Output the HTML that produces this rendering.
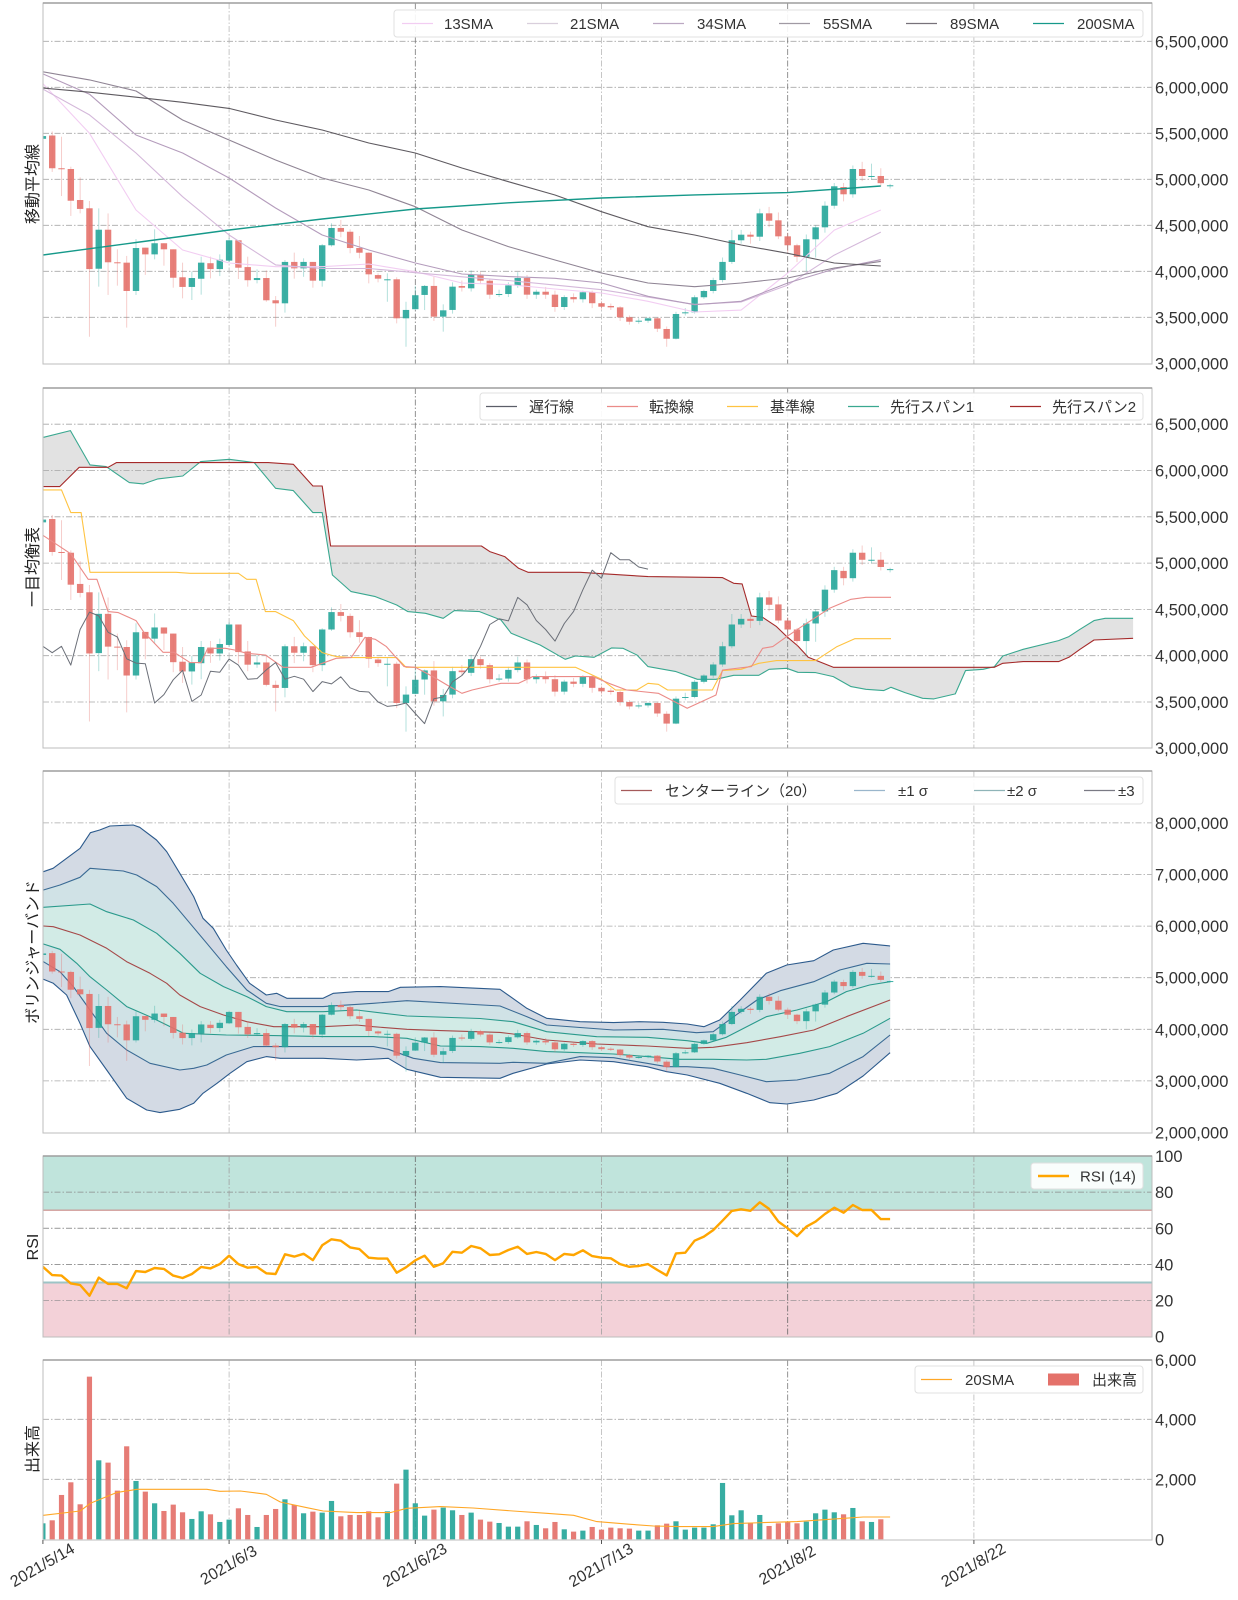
<!DOCTYPE html>
<html lang="ja">
<head>
<meta charset="utf-8">
<title>BTC/JPY chart</title>
<style>
  html,body{margin:0;padding:0;background:#fff;}
  svg{display:block;font-family:"Liberation Sans","Noto Sans CJK JP",sans-serif;}
</style>
</head>
<body>
<svg id="chart" xmlns="http://www.w3.org/2000/svg" width="1238" height="1600" viewBox="0 0 1238 1600"></svg>
<script>
// ===== data (prices in thousands of JPY) =====
const opens = [5440,5476,5120,5112,4775,4685,4028,4452,4098,4094,3786,4257,4184,4305,4239,3935,3830,3919,4088,4024,4116,4337,4046,3905,3927,3685,3652,4102,4032,4102,3898,4283,4471,4430,4253,4202,3959,3913,3913,3489,3588,3743,3841,3507,3580,3840,3815,3963,3898,3753,3753,3845,3927,3746,3778,3746,3612,3720,3696,3772,3653,3623,3608,3500,3463,3463,3489,3373,3267,3554,3554,3718,3786,3905,4102,4337,4398,4376,4630,4554,4380,4283,4158,4348,4478,4713,4916,4837,5112,5036,5036,4935];
const closes = [5470,5120,5112,4767,4678,4024,4452,4098,4094,3786,4253,4184,4305,4239,3930,3830,3927,4094,4024,4126,4337,4039,3903,3927,3685,3652,4102,4032,4102,3898,4283,4471,4430,4253,4202,3967,3920,3913,3489,3580,3740,3841,3507,3576,3833,3822,3963,3898,3746,3753,3847,3927,3746,3778,3746,3612,3720,3696,3772,3653,3615,3608,3500,3452,3463,3489,3376,3267,3536,3554,3718,3786,3905,4102,4337,4398,4376,4630,4550,4380,4283,4158,4348,4478,4713,4924,4837,5112,5036,5036,4958,4935];
const highs = [5500,5520,5463,5137,5021,4764,4684,4629,4239,4167,4351,4257,4456,4305,4239,4094,3996,4159,4159,4184,4360,4337,4159,4021,4010,3731,4123,4203,4141,4101,4297,4522,4558,4456,4384,4206,3978,3978,3935,3669,3843,3851,3942,3641,3880,3900,4010,3990,3920,3800,3880,3990,3960,3800,3830,3790,3740,3760,3790,3790,3680,3650,3620,3520,3490,3500,3500,3400,3560,3600,3740,3800,3930,4150,4450,4450,4430,4680,4700,4640,4420,4300,4400,4500,4760,4960,4960,5150,5190,5170,5120,4950];
const lows = [5420,5080,4818,4602,4630,3289,3833,3743,3844,3388,3743,3961,4130,4061,3822,3706,3688,3746,3923,3948,4100,3916,3833,3869,3669,3398,3551,3920,3940,3822,3833,4268,4370,4196,4141,3869,3880,3669,3434,3180,3579,3579,3460,3344,3540,3780,3780,3860,3700,3720,3720,3820,3700,3700,3700,3560,3580,3660,3660,3600,3580,3580,3460,3420,3430,3440,3340,3180,3260,3520,3540,3700,3760,3880,4080,4300,4300,4330,4480,4350,4200,4100,4000,4150,4420,4680,4760,4800,4980,5000,4920,4900];
const volumes = [533,633,1478,1900,1167,5422,2633,2556,1622,3100,1944,1589,1200,944,1156,900,678,933,833,578,656,1033,811,411,811,1011,1333,1144,867,922,889,1278,767,811,811,933,733,933,1856,2322,1200,789,989,1056,967,811,889,656,589,544,422,422,600,478,367,578,333,256,289,411,322,389,367,356,289,289,467,522,600,322,389,389,500,1878,800,967,556,811,444,533,578,533,589,867,989,900,833,1044,600,578,667,0];
const rsiValues = [38.7,34.1,33.8,29.5,28.6,22.7,32.7,29.2,29.2,26.8,36.3,35.8,38.0,37.5,33.8,32.5,34.7,38.6,37.8,40.2,44.8,40.2,38.2,38.6,35.1,34.7,45.6,44.3,45.9,42.4,50.6,53.9,53.1,49.4,48.5,43.7,43.2,43.2,35.4,38.4,42.3,44.8,38.7,40.6,47.0,46.5,50.2,48.9,45.2,45.6,48.0,49.8,45.8,46.9,45.8,42.4,45.8,45.2,47.8,44.6,43.7,43.4,40.2,38.7,39.1,40.2,36.9,33.9,46.1,46.5,53.1,55.4,59.0,64.2,69.6,70.5,69.7,74.4,70.7,63.7,60.0,55.7,60.9,63.7,67.9,71.4,68.6,72.9,70.1,70.1,65.1,65.1];

// moving averages sampled every 5 days (day 0..90)
const smaDays = [0,5,10,15,20,25,30,35,40,45,50,55,60,65,70,75,80,85,90];
const sma13 = [6040,5500,4666,4231,4090,4050,4050,4079,3996,3873,3855,3808,3764,3674,3558,3578,3980,4448,4666];
const sma21 = [5980,5700,5286,4811,4395,4070,4030,4030,3985,3940,3900,3850,3800,3720,3640,3666,3850,4176,4426];
const sma34 = [6146,5925,5482,5286,5014,4688,4395,4231,4090,3971,3942,3924,3873,3728,3637,3674,3873,4025,4126];
const sma55 = [6168,6080,5960,5645,5427,5210,5014,4884,4702,4449,4268,4123,3982,3873,3833,3873,3927,4036,4108];
const sma89 = [5991,5947,5892,5837,5771,5645,5536,5395,5286,5123,4974,4829,4648,4485,4395,4286,4196,4090,4058];
const sma200Days = [0,10,20,30,40,50,60,70,80,90];
const sma200 = [4177,4313,4449,4568,4677,4745,4797,4830,4855,4927];

// ichimoku
const tenkanDays = [0,3,4.87,5.8,7.0,8.1,10.0,10.8,12.9,14.1,15.8,17.0,17.7,19.6,20.6,21.9,23.9,25.8,28.8,30.0,31.5,33.1,34.6,35.7,36.9,38.8,40.0,41.9,43.4,45.0,46.1,49.2,51.1,52.6,59.1,60.8,62.7,66.1,69.2,72.3,73.0,76.1,77.3,78.4,79.9,81.5,84.5,86.8,88.4,91.1];
const tenkanVals = [5300,5100,4825,4825,4476,4465,4379,4260,4037,4037,3925,3925,4080,4080,4062,4026,4008,3875,3875,3918,3972,3979,4199,4177,4098,3882,3875,3774,3684,3594,3630,3702,3702,3774,3774,3702,3630,3594,3432,3576,3846,3882,4080,4098,4206,4314,4512,4609,4631,4631];
const kijunDays = [0,2.0,3.0,4.1,5.06,14.3,15.8,21.0,21.9,22.9,23.9,25.0,26.9,28.1,30.0,31.5,33.1,38.0,39.0,57.2,60.0,61.5,63.8,65.0,66.1,67.1,71.9,73.0,75.0,76.9,78.8,83.0,85.3,87.2,91.1];
const kijunVals = [5790,5790,5545,5545,4901,4901,4890,4890,4825,4825,4476,4476,4379,4213,4033,3990,3979,3979,3875,3875,3745,3630,3630,3702,3691,3630,3630,3839,3853,3918,3947,3947,4098,4184,4184];
const span1Days = [0.07,2.95,5.06,6.79,9.28,10.8,12.35,15.03,16.95,20.02,22.7,25.0,26.9,29.0,30.0,31.1,33.1,35.7,38.0,39.2,41.1,43.0,44.2,46.9,49.2,50.3,53.4,56.1,57.2,59.2,61.1,62.3,63.8,65.0,68.0,70.3,72.3,74.2,76.9,78.0,79.9,81.1,83.0,84.9,86.8,88.4,90.3,91.1,92.6,94.5,95.7,98.0,99.1,101.0,102.2,103.1,105.3,109.1,110.2,111.4,112.9,114.1,117.1];
const span1Vals = [6359,6431,6060,6042,5869,5855,5909,5941,6096,6121,6085,5808,5783,5545,5545,4872,4692,4638,4548,4476,4458,4404,4487,4476,4386,4242,4116,3961,3997,3983,4084,4080,4008,3882,3828,3745,3745,3788,3788,3853,3864,3821,3817,3774,3666,3637,3623,3659,3601,3540,3533,3587,3839,3853,3882,3997,4069,4163,4206,4285,4379,4404,4404];
const span2Days = [0.07,1.8,3.9,7.0,7.9,24.2,26.9,29.0,30.0,30.9,47.1,48.0,49.6,51.1,52.1,57.7,65.0,73.0,74.2,75.1,76.1,77.3,78.8,79.9,81.1,82.2,84.9,102.2,103.1,105.3,109.1,110.2,111.4,112.9,117.1];
const span2Vals = [5826,5826,6035,6035,6085,6085,6067,5833,5833,5185,5185,5124,5070,4944,4901,4901,4854,4843,4782,4775,4429,4415,4314,4206,4105,3983,3875,3875,3918,3936,3936,3983,4069,4170,4188];
const chikouShift = 26;

// bollinger bands
const bbU3Days = [0.05,1.1,4.0,5.1,6.1,7.2,9.7,10.4,12.2,13.3,14.7,16.2,17.2,18.3,19.7,20.8,22.2,24.0,25.1,26.2,30.1,31.2,33.7,37.1,38.4,42.7,49.1,52.0,54.1,57.7,61.3,64.1,66.6,69.2,71.0,72.7,74.9,77.7,79.9,82.8,84.9,88.1,91.0];
const bbU3 = [7055,7120,7508,7811,7863,7940,7960,7915,7669,7443,7023,6571,6151,5957,5537,5247,4891,4665,4697,4601,4601,4697,4730,4730,4814,4827,4775,4406,4213,4148,4129,4148,4135,4103,4051,4180,4568,5085,5246,5330,5537,5666,5615];
const bbU2Days = [0.05,1.84,3.99,5.06,8.64,10.07,12.22,14.0,15.8,17.6,19.7,21.9,24.0,25.5,30.1,35.5,39.1,49.1,52.0,54.1,61.3,66.6,70.2,72.0,74.2,76.7,79.2,82.8,85.6,88.5,91.0];
const bbU2 = [6700,6797,6945,7120,7068,6991,6765,6442,6054,5666,5214,4762,4504,4439,4439,4504,4555,4452,4245,4084,3987,4000,3935,3954,4245,4568,4749,4923,5149,5279,5266];
const bbU1Days = [0.05,5.06,6.85,9.72,12.22,14.7,16.9,19.4,21.9,24.0,26.2,30.1,33.7,39.1,46.95,50.5,54.1,59.5,64.9,69.2,71.3,73.4,75.6,77.7,81.0,84.2,86.3,88.8,91.0];
const bbU1 = [6364,6429,6280,6119,5860,5473,5085,4827,4633,4439,4342,4342,4374,4258,4210,4148,3954,3857,3844,3780,3728,3844,4051,4245,4374,4536,4730,4859,4923];
const bbMidDays = [0.05,1.12,3.99,6.85,9.0,11.5,13.3,14.7,16.9,19.4,21.9,24.8,30.1,33.7,35.5,39.1,42.7,49.1,50.5,54.1,59.5,64.9,69.2,72.0,75.6,79.2,82.8,86.3,91.0];
const bbMid = [6002,5989,5828,5570,5311,5085,4891,4665,4439,4278,4148,4051,4051,4084,4051,4000,3974,3940,3909,3793,3715,3677,3631,3651,3741,3857,3987,4245,4568];
const bbL1Days = [0.05,1.84,3.63,5.06,6.85,9.0,11.5,15.1,19.7,24.8,30.1,35.5,39.1,42.7,46.95,50.5,54.1,57.7,61.3,64.9,68.4,72.0,75.6,77.7,81.3,84.5,88.1,91.0];
const bbL1 = [5653,5550,5279,5020,4762,4439,4245,3922,3890,3877,3858,3858,3825,3677,3664,3631,3567,3547,3521,3470,3418,3418,3405,3418,3534,3664,3922,4213];
const bbL2Days = [0.05,1.84,3.27,5.06,6.85,9.0,11.5,14.7,16.2,17.6,19.7,22.6,24.8,30.1,35.5,37.1,39.8,42.7,49.1,50.5,54.1,57.7,61.3,64.9,67.0,69.2,72.0,74.9,77.7,81.0,84.5,88.1,91.0];
const bbL2 = [5311,5117,4827,4374,3922,3599,3341,3212,3244,3309,3502,3664,3664,3664,3664,3612,3438,3354,3341,3360,3341,3470,3450,3341,3276,3276,3244,3115,2985,3018,3147,3470,3890];
const bbL3Days = [0.05,1.12,2.55,3.99,5.06,6.85,9.0,11.15,12.58,14.7,16.2,17.2,18.7,20.1,21.9,24.0,25.5,30.1,33.7,37.1,39.1,42.7,49.1,50.5,54.1,57.7,61.3,64.9,67.0,69.2,72.7,75.6,78.1,79.9,82.8,85.3,88.1,91.0];
const bbL3 = [4969,4891,4665,4116,3664,3212,2663,2436,2385,2449,2566,2759,2953,3147,3373,3470,3438,3438,3405,3438,3225,3069,3050,3147,3328,3405,3373,3276,3179,3115,2953,2759,2578,2552,2630,2759,3095,3547];

// volume 20SMA
const volSmaDays = [0.05,4.0,5.1,7.9,10.1,14.0,17.6,19.0,21.2,24.0,25.5,28.3,30.1,33.7,37.3,39.1,42.7,46.2,50.5,54.1,57.0,59.5,63.1,65.6,68.4,72.0,74.2,77.4,81.0,84.5,88.1,91.0];
const volSma = [800,944,1200,1556,1667,1667,1667,1600,1611,1500,1244,1056,944,889,889,1033,1089,1044,944,867,800,589,500,444,422,422,522,556,589,667,744,744];

// axes ticks
const dateTickDays = [0,20,40,60,80,100];
const dateTickLabels = ["2021/5/14","2021/6/3","2021/6/23","2021/7/13","2021/8/2","2021/8/22"];
const priceTicks = [3000,3500,4000,4500,5000,5500,6000,6500];
const bbTicks = [2000,3000,4000,5000,6000,7000,8000];
const rsiTicks = [0,20,40,60,80,100];
const volTicks = [0,2000,4000,6000];

// ===== axis functions =====
const L = 43, R = 1152;
const X = d => 42.9 + 9.31 * d;
const Y1 = p => 271.3 - (p - 4000) * 0.0920;
const Y2 = p => 655.7 - (p - 4000) * 0.0926;
const Y3 = p => 977.7 - (p - 5000) * 0.0516;
const Y4 = v => 1336.7 - v * 1.807;
const Y5 = v => 1539.3 - v * 0.030;
const panels = [
  {top:3, bot:364, y:Y1},
  {top:388, bot:748, y:Y2},
  {top:771, bot:1133, y:Y3},
  {top:1156, bot:1337, y:Y4},
  {top:1360, bot:1540, y:Y5}
];

const NS = "http://www.w3.org/2000/svg";
const svg = document.getElementById("chart");
function mk(tag, attrs, parent) {
  const el = document.createElementNS(NS, tag);
  for (const k in attrs) el.setAttribute(k, attrs[k]);
  (parent || svg).appendChild(el);
  return el;
}
function pts(days, vals, yf) {
  return days.map((d, i) => X(d).toFixed(1) + "," + yf(vals[i]).toFixed(1)).join(" ");
}
function fmt(n) { return n.toString().replace(/\B(?=(\d{3})+(?!\d))/g, ","); }

// ===== panel frames, grids, ticks =====
const panelNames = ["sma-panel","ichimoku-panel","bollinger-panel","rsi-panel","volume-panel"];
const tickSets = [priceTicks, priceTicks, bbTicks, rsiTicks, volTicks];
const tickScale = [1000,1000,1000,1,1];
panels.forEach((pn, k) => {
  const g = mk("g", {});
  
  
  pn.g = g;
  const defs = mk("defs", {}, g);
  const cp = mk("clipPath", {id: "clip" + k}, defs);
  mk("rect", {x: L, y: pn.top, width: R - L, height: pn.bot - pn.top}, cp);
  tickSets[k].forEach(t => {
    const y = pn.y(t);
    if (y > pn.top + 1 && y < pn.bot - 1) {
      const gl = mk("line", {x1: L, x2: R, y1: y, y2: y, stroke: "#a8a8a8", "stroke-width": 0.8, "stroke-dasharray": "6,2,1.5,2"}, g);
      
      
    }
    const tx = mk("text", {x: R + 3, y: Math.min(Math.max(y, pn.top), pn.bot) + 6, "font-size": 16.5, fill: "#333"}, g);
    tx.textContent = fmt(t * tickScale[k]);
    
    
  });
  dateTickDays.forEach((d, i) => {
    const x = X(d);
    if (x > L + 1) {
      const dark = (i === 2 || i === 4);
      const vl = mk("line", {x1: x, x2: x, y1: pn.top, y2: pn.bot, stroke: dark ? "#777" : "#b8b8b8", "stroke-width": 0.8, "stroke-dasharray": "6,2,1.5,2"}, g);
      
      
    }
  });
  pn.plot = mk("g", {"clip-path": "url(#clip" + k + ")"}, g);
  
  
});

function line(panel, days, vals, color, w, name) {
  const el = mk("polyline", {points: pts(days, vals, panel.y), fill: "none", stroke: color, "stroke-width": w, "stroke-linejoin": "round"}, panel.plot);
  
  
  return el;
}
function band(panel, dA, vA, dB, vB, color, name) {
  const p = pts(dA, vA, panel.y) + " " + pts(dB.slice().reverse(), vB.slice().reverse(), panel.y);
  const el = mk("polygon", {points: p, fill: color, stroke: "none", "fill-rule": "evenodd"}, panel.plot);
  
  
  return el;
}
const UP = "#26a69a", DN = "#e4716a";
function candles(panel) {
  const g = mk("g", {}, panel.plot);
  
  
  opens.forEach((o, i) => {
    const c = closes[i], up = c >= o, col = up ? UP : DN;
    const x = X(i);
    const w = mk("line", {x1: x, x2: x, y1: panel.y(highs[i]), y2: panel.y(lows[i]), stroke: col, "stroke-opacity": 0.35, "stroke-width": 1}, g);
    
    
    const yt = panel.y(Math.max(o, c)), yb = panel.y(Math.min(o, c));
    const b = mk("rect", {x: x - 3.2, y: yt, width: 6.4, height: Math.max(1, yb - yt), fill: col, "fill-opacity": 0.9}, g);
    
    
  });
}

// ===== panel 1: SMAs =====
const p1 = panels[0];
candles(p1);
line(p1, smaDays, sma13, "#f2cdf2", 1.1, "sma13-line");
line(p1, smaDays, sma21, "#d4b8da", 1.1, "sma21-line");
line(p1, smaDays, sma34, "#b49cbc", 1.1, "sma34-line");
line(p1, smaDays, sma55, "#8f8494", 1.1, "sma55-line");
line(p1, smaDays, sma89, "#5e5a60", 1.1, "sma89-line");
line(p1, sma200Days, sma200, "#16998a", 1.4, "sma200-line");

// ===== panel 2: Ichimoku =====
const p2 = panels[1];
band(p2, span1Days, span1Vals, span2Days, span2Vals, "rgba(160,160,160,0.3)", "ichimoku-cloud");
line(p2, span1Days, span1Vals, "#3aa890", 1.1, "senkou-span1-line");
line(p2, span2Days, span2Vals, "#a52a2a", 1.1, "senkou-span2-line");
candles(p2);
line(p2, kijunDays, kijunVals, "#ffc341", 1.1, "kijun-line");
line(p2, tenkanDays, tenkanVals, "#eb8b88", 1.1, "tenkan-line");
const chikouDays = closes.map((c, i) => i - chikouShift).filter(d => d >= 0);
const chikouVals = closes.slice(chikouShift);
line(p2, chikouDays, chikouVals, "#6b6f78", 1, "chikou-line");

// ===== panel 3: Bollinger =====
const p3 = panels[2];
band(p3, bbU3Days, bbU3, bbL3Days, bbL3, "#d3dae4", "bb-3sigma-fill");
band(p3, bbU2Days, bbU2, bbL2Days, bbL2, "#d0e2e6", "bb-2sigma-fill");
band(p3, bbU1Days, bbU1, bbL1Days, bbL1, "#d2ebe6", "bb-1sigma-fill");
line(p3, bbU3Days, bbU3, "#2c5a8c", 1.1, "bb-upper3-line");
line(p3, bbL3Days, bbL3, "#2c5a8c", 1.1, "bb-lower3-line");
line(p3, bbU2Days, bbU2, "#3a6a94", 1.1, "bb-upper2-line");
line(p3, bbL2Days, bbL2, "#3a6a94", 1.1, "bb-lower2-line");
line(p3, bbU1Days, bbU1, "#2a9a8c", 1.1, "bb-upper1-line");
line(p3, bbL1Days, bbL1, "#2a9a8c", 1.1, "bb-lower1-line");
line(p3, bbMidDays, bbMid, "#a54848", 1.1, "bb-center-line");
candles(p3);

// ===== panel 4: RSI =====
const p4 = panels[3];
const ob = mk("rect", {x: L, y: Y4(100), width: R - L, height: Y4(70) - Y4(100), fill: "#c0e4dc"}, p4.plot);


const os = mk("rect", {x: L, y: Y4(30), width: R - L, height: Y4(0) - Y4(30), fill: "#f3d1d8"}, p4.plot);


const l70 = mk("line", {x1: L, x2: R, y1: Y4(70), y2: Y4(70), stroke: "#c98a86", "stroke-width": 1.2}, p4.plot);


const l30 = mk("line", {x1: L, x2: R, y1: Y4(30), y2: Y4(30), stroke: "#9cc4c6", "stroke-width": 2}, p4.plot);


rsiTicks.forEach(t => {
  if (t > 0 && t < 100) {
    const gl = mk("line", {x1: L, x2: R, y1: Y4(t), y2: Y4(t), stroke: "#8a8a8a", "stroke-width": 0.7, "stroke-dasharray": "6,2,1.5,2"}, p4.plot);
    
    
  }
});
dateTickDays.forEach((d, i) => {
  if (d > 0) {
    const vl = mk("line", {x1: X(d), x2: X(d), y1: p4.top, y2: p4.bot, stroke: (i === 2 || i === 4) ? "#666" : "#a0a0a0", "stroke-width": 0.8, "stroke-dasharray": "6,2,1.5,2"}, p4.plot);
    
    
  }
});
line(p4, rsiValues.map((v, i) => i), rsiValues, "#ffa500", 2.4, "rsi-line");

// ===== panel 5: Volume =====
const p5 = panels[4];
const vg = mk("g", {}, p5.plot);


volumes.forEach((v, i) => {
  if (v <= 0) return;
  const col = closes[i] >= opens[i] ? UP : DN;
  const b = mk("rect", {x: X(i) - 2.6, y: Y5(v), width: 5.2, height: Y5(0) - Y5(v), fill: col, "fill-opacity": 0.92}, vg);
  
  
});
line(p5, volSmaDays, volSma, "#ffa726", 1.1, "volume-sma20-line");

// ===== frames =====
panels.forEach((pn, k) => {
  const fr = mk("rect", {x: L, y: pn.top, width: R - L, height: pn.bot - pn.top, fill: "none", stroke: "#bdbdbd", "stroke-width": 1}, pn.g);
  
  
  const tl = mk("line", {x1: L, x2: R, y1: pn.top, y2: pn.top, stroke: "#9e9e9e", "stroke-width": 1.5}, pn.g);
  
  
});

// ===== y-axis titles =====
const yTitles = [["移動平均線", 184], ["一目均衡表", 567], ["ボリンジャーバンド", 952], ["RSI", 1247], ["出来高", 1449]];
const yTitleNames = ["sma-y-axis-title","ichimoku-y-axis-title","bollinger-y-axis-title","rsi-y-axis-title","volume-y-axis-title"];
yTitles.forEach((t, i) => {
  const tx = mk("text", {x: 0, y: 0, "font-size": 16, fill: "#222", "text-anchor": "middle", transform: "translate(38," + t[1] + ") rotate(-90)"});
  tx.textContent = t[0];
  
  
});

// ===== x date labels =====
dateTickDays.forEach((d, i) => {
  const x = X(d);
  const tk = mk("line", {x1: x, x2: x, y1: 1540, y2: 1544, stroke: "#555", "stroke-width": 1});
  
  
  const tx = mk("text", {x: 0, y: 0, "font-size": 16, fill: "#333", "text-anchor": "middle", "dominant-baseline": "middle", transform: "translate(" + x + ",1566) rotate(-30)"});
  tx.textContent = dateTickLabels[i];
  
  
});

// ===== legends =====
function legend(name, box, entries) {
  const g = mk("g", {});
  
  
  const r = mk("rect", {x: box[0], y: box[1], width: box[2] - box[0], height: box[3] - box[1], rx: 3, fill: "#fff", "fill-opacity": 0.9, stroke: "#e0e0e0"}, g);
  
  
  const cy = (box[1] + box[3]) / 2;
  entries.forEach(e => {
    let sw;
    if (e.patch) {
      sw = mk("rect", {x: e.x1, y: cy - 6, width: e.x2 - e.x1, height: 12, fill: e.color}, g);
    } else {
      sw = mk("line", {x1: e.x1, x2: e.x2, y1: cy, y2: cy, stroke: e.color, "stroke-width": e.w || 1.2}, g);
    }
    
    
    const tx = mk("text", {x: e.tx, y: cy + 5.5, "font-size": 15, fill: "#333"}, g);
    tx.textContent = e.label;
    
    
  });
}
legend("sma-legend", [394, 10, 1143, 37], [
  {x1: 402, x2: 433, tx: 444, color: "#f2cdf2", label: "13SMA"},
  {x1: 527, x2: 558, tx: 570, color: "#d9cfdc", label: "21SMA"},
  {x1: 653, x2: 684, tx: 697, color: "#bca8c2", label: "34SMA"},
  {x1: 779, x2: 810, tx: 823, color: "#a09aa3", label: "55SMA"},
  {x1: 906, x2: 937, tx: 950, color: "#77727a", label: "89SMA"},
  {x1: 1033, x2: 1064, tx: 1077, color: "#16998a", label: "200SMA"}
]);
legend("ichimoku-legend", [480, 393, 1143, 420], [
  {x1: 486, x2: 517, tx: 529, color: "#5b5e68", label: "遅行線"},
  {x1: 607, x2: 638, tx: 649, color: "#eb8b88", label: "転換線"},
  {x1: 727, x2: 758, tx: 770, color: "#ffc341", label: "基準線"},
  {x1: 848, x2: 879, tx: 890, color: "#3aa890", label: "先行スパン1"},
  {x1: 1010, x2: 1041, tx: 1052, color: "#a52a2a", label: "先行スパン2"}
]);
legend("bollinger-legend", [615, 777, 1143, 804], [
  {x1: 621, x2: 652, tx: 665, color: "#a55a5a", label: "センターライン（20）"},
  {x1: 854, x2: 885, tx: 898, color: "#9ab6cc", label: "±1 σ"},
  {x1: 974, x2: 1005, tx: 1007, color: "#8fb4b8", label: "±2 σ"},
  {x1: 1084, x2: 1115, tx: 1118, color: "#7a7a84", label: "±3"}
]);
legend("rsi-legend", [1031, 1163, 1143, 1189], [
  {x1: 1038, x2: 1069, tx: 1080, color: "#ffa500", w: 2.4, label: "RSI (14)"}
]);
legend("volume-legend", [915, 1366, 1143, 1393], [
  {x1: 921, x2: 952, tx: 965, color: "#ffa726", label: "20SMA"},
  {x1: 1048, x2: 1079, tx: 1092, color: "#e4716a", patch: true, label: "出来高"}
]);
</script>
</body>
</html>
